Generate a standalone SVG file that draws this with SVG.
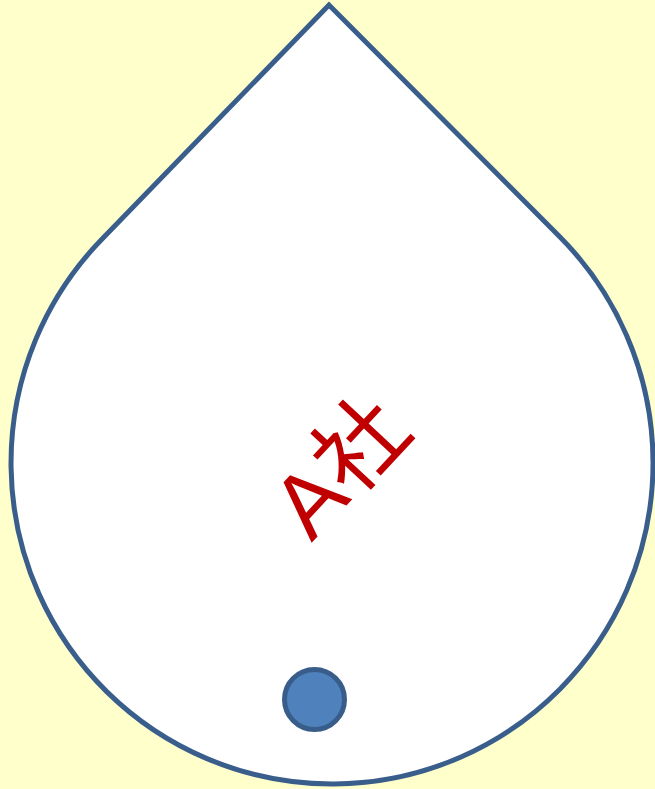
<svg xmlns="http://www.w3.org/2000/svg" width="655" height="789" viewBox="0 0 655 789">
<style>
.drop{fill:#FFFFFF;stroke:#3A5E8C;stroke-width:5;stroke-linejoin:miter}
.dot{fill:#4F81BD;stroke:#385D8A;stroke-width:5}
.lbl{font-family:"Liberation Sans","Noto Sans CJK JP",sans-serif;font-size:90px;fill:#C00000;text-anchor:middle;dominant-baseline:central}
</style>
<rect width="655" height="789" fill="#FFFFCC"/>
<g id="drop">
<path class="drop" d="M329,5 L101.6,239.5 A321,321 0 1 0 559.5,236.5 Z"/>
<text class="lbl" x="340" y="467" transform="rotate(-47 340 467)">A社</text>
</g>
<g id="dot">
<circle class="dot" cx="314.5" cy="699.5" r="30"/>
</g>
<g id="connectors"></g>
</svg>
